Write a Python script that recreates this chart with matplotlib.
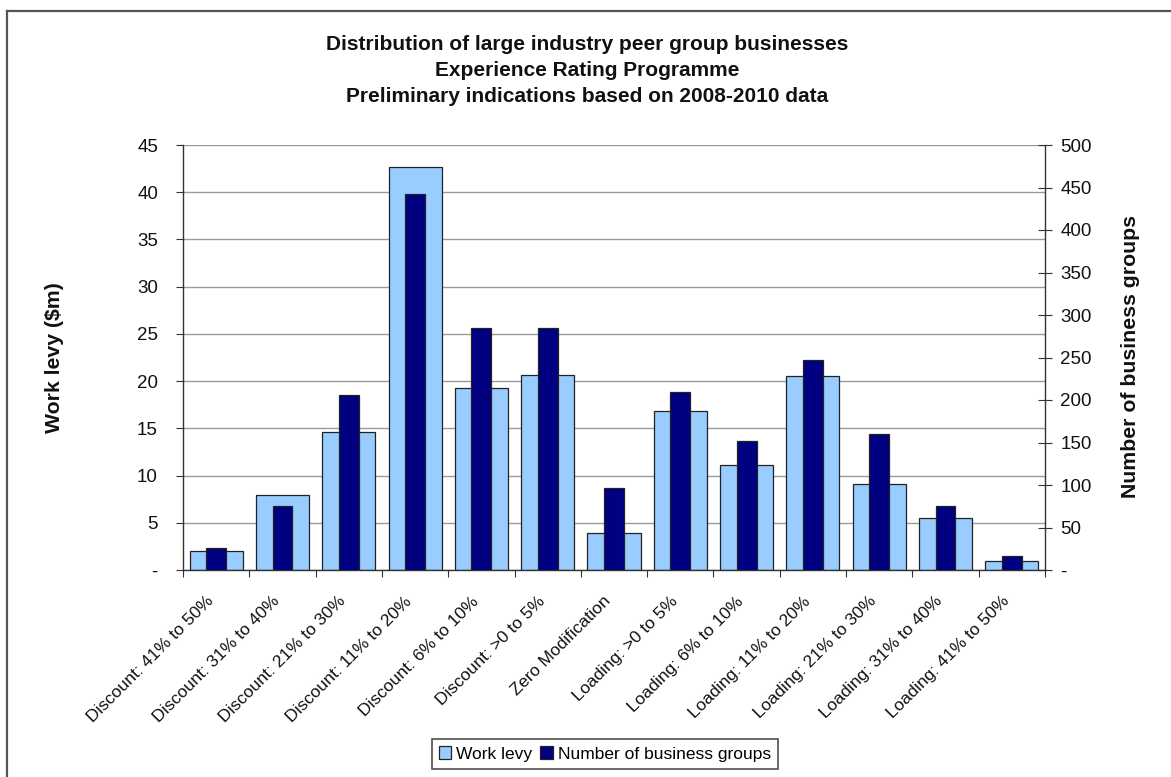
"""
Experience rating chart: work levy vs number of business groups per band.
"""

import matplotlib
matplotlib.use("Agg")
import matplotlib.pyplot as plt
import numpy as np
from matplotlib.lines import Line2D
from matplotlib.patches import Patch
from matplotlib.ticker import FuncFormatter

categories = [
    "Discount: 41% to 50%", "Discount: 31% to 40%", "Discount: 21% to 30%",
    "Discount: 11% to 20%", "Discount: 6% to 10%", "Discount: >0 to 5%",
    "Zero Modification", "Loading: >0 to 5%", "Loading: 6% to 10%",
    "Loading: 11% to 20%", "Loading: 21% to 30%", "Loading: 31% to 40%",
    "Loading: 41% to 50%",
]
work_levy = [2.0, 7.9, 14.6, 42.7, 19.3, 20.6, 3.9, 16.8, 11.1, 20.5, 9.1, 5.5, 1.0]
num_groups = [26, 75, 206, 442, 285, 285, 96, 210, 152, 247, 160, 75, 17]
title_lines = [
    "Distribution of large industry peer group businesses",
    "Experience Rating Programme",
    "Preliminary indications based on 2008-2010 data",
]

plt.rcParams['font.family'] = ['Liberation Sans', 'DejaVu Sans']

W, H = 1171, 777
fig = plt.figure(figsize=(W / 100, H / 100), dpi=100)
ax = fig.add_axes([183 / W, 1 - 570 / H, (1045 - 183) / W, 425 / H])
ax2 = ax.twinx()

x = np.arange(len(categories))
light = '#99CCFF'
navy = '#000080'
edge = '#222222'

ax.bar(x, work_levy, width=0.8, color=light, edgecolor=edge, linewidth=0.9, zorder=2)
ax2.bar(x, num_groups, width=0.3, color=navy, edgecolor=edge, linewidth=0.9, zorder=3)

ax.set_xlim(-0.5, len(categories) - 0.5)
ax.set_ylim(0, 45)
ax2.set_ylim(0, 500)
ax.set_yticks(np.arange(0, 46, 5))
ax2.set_yticks(np.arange(0, 501, 50))

dash = FuncFormatter(lambda v, p: '-' if v == 0 else f'{v:g}')
ax.yaxis.set_major_formatter(dash)
ax2.yaxis.set_major_formatter(dash)

ax.grid(axis='y', color='#9a9a9a', linewidth=1.0)
ax.set_axisbelow(True)

# category boundaries get the tick marks, centres get the labels
ax.set_xticks(np.arange(-0.5, len(categories), 1.0))
ax.set_xticklabels([])
ax.set_xticks(x, minor=True)
ax.set_xticklabels(categories, minor=True, rotation=45, ha='right', va='top',
                   fontsize=12.5, color='#111111')
ax.tick_params(axis='x', which='major', direction='out', length=5, color='#333333')
ax.tick_params(axis='x', which='minor', length=0, pad=17)
ax.tick_params(axis='y', direction='out', length=5, pad=13, labelsize=13.5,
               color='#333333', labelcolor='#111111')
ax2.tick_params(axis='y', direction='inout', length=10, pad=6, labelsize=13.5,
                color='#333333', labelcolor='#111111')

for s in ['top', 'right']:
    ax.spines[s].set_visible(False)
for s in ['top', 'left', 'bottom']:
    ax2.spines[s].set_visible(False)
for sp in [ax.spines['left'], ax.spines['bottom'], ax2.spines['right']]:
    sp.set_color('#333333')
    sp.set_linewidth(1.0)

# axis titles
fig.text(55 / W, 1 - 358 / H, "Work levy ($m)", rotation=90, ha='center', va='center',
         fontsize=15.3, fontweight='bold', color='#111111')
fig.text(1131 / W, 1 - 357 / H, "Number of business groups", rotation=90, ha='center',
         va='center', fontsize=15.3, fontweight='bold', color='#111111')

# title
for i, line in enumerate(title_lines):
    fig.text(587 / W, 1 - (44 + 26 * i) / H, line, ha='center', va='center',
             fontsize=15, fontweight='bold', color='#111111')

handles = [Patch(facecolor=light, edgecolor=edge, linewidth=0.9),
           Patch(facecolor=navy, edgecolor=edge, linewidth=0.9)]
leg = fig.legend(handles, ["Work levy", "Number of business groups"],
                 loc='center', bbox_to_anchor=(605 / W, 1 - 754 / H), ncol=2,
                 fontsize=12.5, frameon=True, fancybox=False, handlelength=0.7,
                 handleheight=0.7, handletextpad=0.3, columnspacing=0.45,
                 borderpad=0.4, borderaxespad=0)
leg.get_frame().set_edgecolor('#222222')
leg.get_frame().set_linewidth(1.2)

# outer chart border (only top and left edges fall inside the image)
fig.add_artist(Line2D([7 / W, 7 / W], [0, 1 - 11 / H], color='#555555', linewidth=1.6))
fig.add_artist(Line2D([7 / W, 1], [1 - 11 / H, 1 - 11 / H], color='#555555', linewidth=1.6))

fig.savefig('out.png', dpi=100)
